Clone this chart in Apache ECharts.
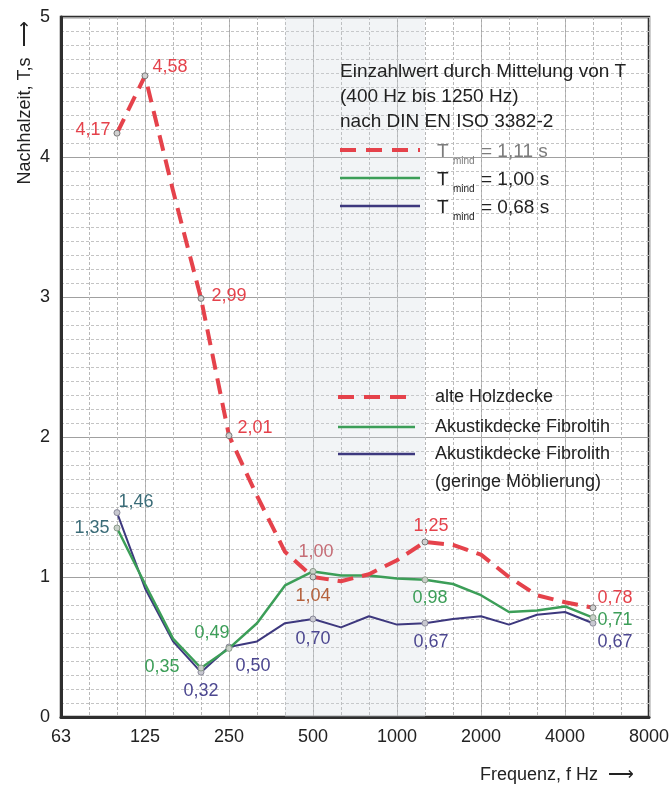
<!DOCTYPE html>
<html>
<head>
<meta charset="utf-8">
<script src="https://cdn.jsdelivr.net/npm/echarts@6/dist/echarts.min.js"></script>
<style>
	html, body { margin: 0; padding: 0; background: #fff; }
	#chart { width: 672px; height: 786px; }
</style>
</head>
<body>
<div id="chart"></div>
<script>
	// Terzband-Mittenfrequenzen (Hz)
	const freqs = ['63', '80', '100', '125', '160', '200', '250', '315', '400', '500', '630', '800',
		'1000', '1250', '1600', '2000', '2500', '3150', '4000', '5000', '6300', '8000']

	/*Nachhallzeiten T in s*/
	const holzdecke = [null, null, 4.17, 4.58, 3.76, 2.99, 2.01, 1.58, 1.18, 1.00, 0.97, 1.02,
		1.12, 1.25, 1.23, 1.16, 1.00, 0.87, 0.82, 0.78, null, null]
	const fibrolith = [null, null, 1.35, 0.95, 0.56, 0.35, 0.49, 0.67, 0.94, 1.04, 1.01, 1.01,
		0.99, 0.98, 0.95, 0.87, 0.75, 0.76, 0.79, 0.71, null, null]
	const fibrolithMoebl = [null, null, 1.46, 0.92, 0.54, 0.32, 0.50, 0.54, 0.67, 0.70, 0.64, 0.72,
		0.66, 0.67, 0.70, 0.72, 0.66, 0.73, 0.75, 0.67, null, null]

	const seriesNames = ['alte Holzdecke', 'Akustikdecke Fibroltih', 'Akustikdecke Fibrolith']
	const tMind = ['1,11', '1,00', '0,68']
	const bandFrom = '400'
	const bandTo = '1250'

	const red = '#e5424b'
	const green = '#3c9e58'
	const blue = '#3d387e'
	const font = '"Liberation Sans", Arial, sans-serif'

	// Beschriftung: index -> [position, distance, offset, color]
	const redLabels = {
		2: ['left', 3, [0, -3], red],
		3: ['right', 4, [0, -9], red],
		5: ['right', 7, [0, -2], red],
		6: ['right', 5, [0, -8], red],
		9: ['top', 12, [3, 0], '#c56d76'],
		13: ['top', 3, [6, 0], red],
		19: ['right', 1, [0, -10], red]
	}
	const greenLabels = {
		2: ['left', 4, [0, 0], '#3b6c78'],
		5: ['left', 18, [0, -1], green],
		6: ['top', 3, [-17, 0], green],
		9: ['bottom', 12, [0, 0], '#b5613c'],
		13: ['bottom', 6, [5, 0], green],
		19: ['right', 1, [0, 2], green]
	}
	const blueLabels = {
		2: ['right', 0, [-2, -11], '#3b6c78'],
		5: ['bottom', 6, [0, 0], '#4c4790'],
		6: ['right', 3, [0, 19], '#4c4790'],
		9: ['bottom', 8, [0, 0], '#4c4790'],
		13: ['bottom', 6, [6, 0], '#4c4790'],
		19: ['right', 1, [0, 19], '#4c4790']
	}

	function buildData(values, spec) {
		return values.map((v, i) => {
			const s = spec[i]
			if (!s || v == null) return v
			return {
				value: v,
				symbol: 'circle',
				symbolSize: 6,
				label: {
					show: true,
					position: s[0],
					distance: s[1],
					offset: s[2],
					color: s[3]
				}
			}
		})
	}

	const labelStyle = {
		fontSize: 18,
		fontFamily: font,
		formatter: p => p.value.toFixed(2).replace('.', ',')
	}

	const chart = echarts.init(document.getElementById('chart'))

	function keyLine(c, i, x1, x2, y) {
		return {
			type: 'line',
			z: 10,
			shape: {x1: x1, y1: y, x2: x2, y2: y},
			style: {stroke: c, lineWidth: i === 0 ? 4 : 2.5, lineDash: i === 0 ? [16, 10] : null}
		}
	}
	function txt(s, x, y, size, c) {
		return {type: 'text', x: x, y: y, z: 10,
			style: {text: s, font: size + 'px ' + font, fill: c || '#222', textVerticalAlign: 'middle'}}
	}

	// Einzahlwert-Block (oben)
	const tBlock = tMind.map((t, i) => {
		const y = 152 + i * 28
		const c = i === 0 ? '#7c7c7c' : '#222'
		return [
			keyLine([red, green, blue][i], i, 340, 420, y - 2),
			txt('T', 437, y, 19, c),
			txt('mind', 453, y + 9, 10, c),
			txt('= ' + t + ' s', 481, y, 19, c)
		]
	}).flat()

	// Legende (Mitte)
	const legendRows = [397, 427, 454]
	const legendBlock = seriesNames.map((n, i) => [
		keyLine([red, green, blue][i], i, 338, 415, legendRows[i]),
		txt(n, 435, legendRows[i], 18)
	]).flat()

	chart.setOption({
		animation: false,
		backgroundColor: '#fff',
		grid: {
			left: 61,
			right: 19,
			top: 17,
			bottom: 69,
			show: true,
			borderColor: '#2e2e2e',
			borderWidth: 2.5
		},
		xAxis: [{
			type: 'category',
			data: freqs,
			boundaryGap: false,
			axisLine: {lineStyle: {color: '#2e2e2e', width: 3}},
			axisTick: {show: false},
			axisLabel: {interval: 2, fontSize: 18, fontFamily: font, color: '#222', margin: 11},
			splitLine: {show: true, interval: 2, lineStyle: {color: '#a6a6a6', width: 1}}
		}, {
			type: 'category',
			data: freqs,
			boundaryGap: false,
			position: 'top',
			axisLine: {show: false},
			axisTick: {show: false},
			axisLabel: {show: false},
			splitLine: {show: true, interval: 0, lineStyle: {color: '#b8b8b8', width: 1, type: [3, 2]}}
		}],
		yAxis: {
			type: 'value',
			min: 0,
			max: 5,
			interval: 1,
			axisLine: {show: true, lineStyle: {color: '#2e2e2e', width: 3}},
			axisTick: {show: false},
			axisLabel: {fontSize: 18, fontFamily: font, color: '#222', margin: 11},
			splitLine: {lineStyle: {color: '#a0a0a0', width: 1}},
			minorTick: {show: false, splitNumber: 10},
			minorSplitLine: {show: true, lineStyle: {color: '#c4c4c4', width: 1, type: [3, 2]}}
		},
		series: [{
			name: seriesNames[2],
			type: 'line',
			symbol: 'none',
			data: buildData(fibrolithMoebl, blueLabels),
			lineStyle: {color: blue, width: 2},
			itemStyle: {color: '#c8c8d0', borderColor: '#8a8a9a', borderWidth: 1},
			label: labelStyle,
			z: 3
		}, {
			name: seriesNames[1],
			type: 'line',
			symbol: 'none',
			data: buildData(fibrolith, greenLabels),
			lineStyle: {color: green, width: 2.5},
			itemStyle: {color: '#c8d0c8', borderColor: '#8a9a8a', borderWidth: 1},
			label: labelStyle,
			z: 4
		}, {
			name: seriesNames[0],
			type: 'line',
			symbol: 'none',
			data: buildData(holzdecke, redLabels),
			lineStyle: {color: red, width: 4, type: [16, 9]},
			itemStyle: {color: '#d0d0d0', borderColor: '#777', borderWidth: 1},
			label: labelStyle,
			z: 5,
			markArea: {
				silent: true,
				itemStyle: {color: 'rgba(210,214,222,0.28)'},
				data: [[{xAxis: bandFrom}, {xAxis: bandTo}]]
			}
		}],
		graphic: [
			{type: 'text', x: 25, y: 103, rotation: Math.PI / 2,
				style: {text: 'Nachhalzeit, T,s  \u27F6', font: '18px ' + font, fill: '#222', textAlign: 'center', textVerticalAlign: 'middle'}},
			txt('Frequenz, f Hz  \u27F6', 480, 775, 18),
			txt('Einzahlwert durch Mittelung von T', 340, 72, 19),
			txt('(400 Hz bis 1250 Hz)', 340, 97, 19),
			txt('nach DIN EN ISO 3382-2', 340, 122, 19),
			txt('(geringe Möblierung)', 435, 482, 18)
		].concat(tBlock, legendBlock)
	})
</script>
</body>
</html>
